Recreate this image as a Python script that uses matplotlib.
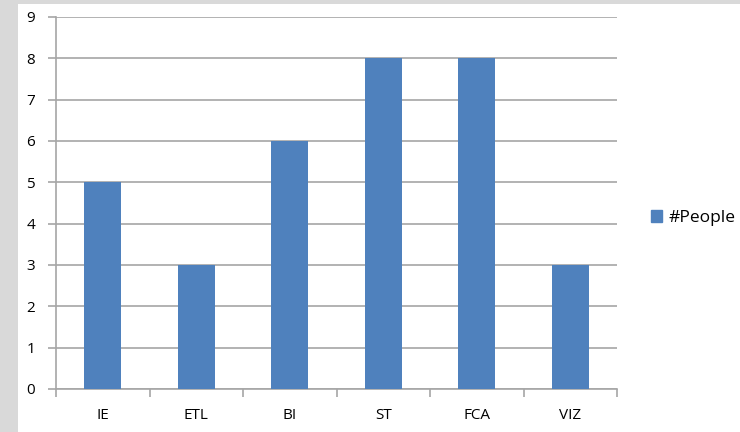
import matplotlib.pyplot as plt
import numpy as np
from matplotlib.patches import Rectangle, Patch

# data
categories = ["IE", "ETL", "BI", "ST", "FCA", "VIZ"]
people = [5, 3, 6, 8, 8, 3]
yticks = list(range(0, 10))

bar_color = "#4f81bd"
grid_color = "#a6a6a6"

plt.rcParams["font.family"] = ["Open Sans", "DejaVu Sans"]

fig = plt.figure(figsize=(7.4, 4.32), dpi=100)
fig.patch.set_facecolor("#d9d9d9")

# white chart area over the grey frame
fig.patches.append(Rectangle((18 / 740, 0), 1, 1 - 4 / 432, transform=fig.transFigure,
                             facecolor="white", edgecolor="none", zorder=-1))

ax = fig.add_axes([56 / 740, 1 - 389 / 432, (617 - 56) / 740, (389 - 17) / 432])
ax.set_zorder(1)
ax.set_facecolor("none")

x = np.arange(len(categories))
ax.bar(x, people, width=0.4, color=bar_color, zorder=3, label="#People")

ax.set_xlim(-0.5, len(categories) - 0.5)
ax.set_ylim(0, 9)
ax.set_yticks(yticks)
ax.yaxis.grid(True, color=grid_color, linewidth=1.2, zorder=0)
ax.set_axisbelow(True)

# category labels centred, tick marks between categories
ax.set_xticks(x)
ax.set_xticklabels(categories)
ax.set_xticks(np.arange(-0.5, len(categories)), minor=True)
ax.tick_params(axis="x", which="major", length=0, pad=14, labelsize=11)
ax.tick_params(axis="x", which="minor", length=6, width=1.2, color=grid_color, direction="out")
ax.tick_params(axis="y", length=6, width=1.2, color=grid_color, pad=9, labelsize=11)

for side in ["top", "right"]:
    ax.spines[side].set_visible(False)
for side in ["left", "bottom"]:
    ax.spines[side].set_color(grid_color)
    ax.spines[side].set_linewidth(1.2)

fig.legend(handles=[Patch(color=bar_color, label="#People")],
           loc="center left", bbox_to_anchor=(651 / 740, 1 - 218 / 432),
           frameon=False, fontsize=12.5, handlelength=0.65, handleheight=0.7,
           handletextpad=0.35, borderaxespad=0, borderpad=0)

fig.savefig("out.png", dpi=100, facecolor=fig.get_facecolor())
